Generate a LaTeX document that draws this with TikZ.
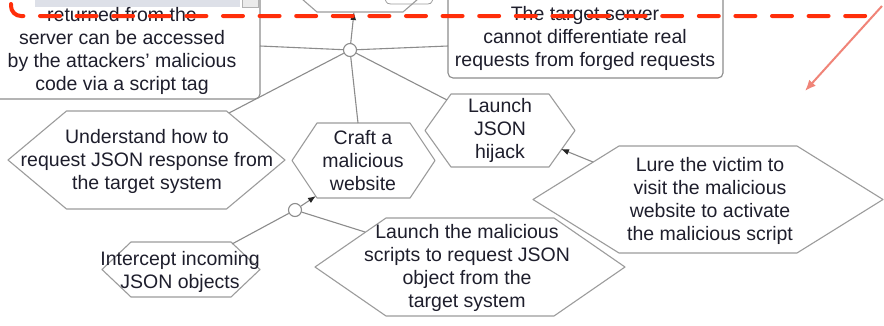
\documentclass[tikz,border=0pt]{standalone}
\usepackage{fontspec}
\setmainfont{Liberation Sans}
\usetikzlibrary{arrows.meta}

\definecolor{edgegray}{HTML}{8C8C8C}
\definecolor{hexgray}{HTML}{9C9C9C}
\definecolor{inkdark}{HTML}{1E1E2C}
\definecolor{dashred}{HTML}{FF2E0A}
\definecolor{pointerpink}{HTML}{F08478}
\definecolor{barblue}{HTML}{DDE0E8}

\tikzset{
  conn/.style={draw=edgegray, line width=1.1pt},
  tipped/.style={-{Latex[length=8pt,width=6pt,color=black!85]}},
  hexline/.style={draw=hexgray, line width=1.1pt, fill=white, line join=round},
  boxline/.style={draw=edgegray, line width=1.1pt, rounded corners=5pt, fill=white},
  txt/.style={text=inkdark, align=center, inner sep=0pt,
              font=\fontsize{19.5}{23}\selectfont},
  junc/.style={circle, draw=edgegray, line width=1.1pt, fill=white,
               minimum size=13pt, inner sep=0pt},
}

% hexagon: name, centre x, centre y, outer half width, inner half width, half height
\newcommand\hexagonat[6]{%
  \coordinate (#1) at (#2,#3);
  \draw[hexline] (#2-#4,#3) -- (#2-#5,#3-#6) -- (#2+#5,#3-#6) -- (#2+#4,#3)
    -- (#2+#5,#3+#6) -- (#2-#5,#3+#6) -- cycle;}

\begin{document}
\begin{tikzpicture}[x=1pt,y=-1pt]
\useasboundingbox (0,0) rectangle (884,325);
\fill[white] (0,0) rectangle (884,325);

% goals at the upper level, cut off by the page edge
\draw[boxline] (-30,-30) rectangle (260,99);
\draw[boxline] (448,-30) rectangle (723,78);
\draw[hexline] (302,-1) -- (317,12) -- (403,12) -- (418,-1);
\draw[draw=hexgray, line width=0.8pt] (385,-1) .. controls (387,4) .. (395,4) -- (424,4) .. controls (431,4) .. (433,-1);
\fill[barblue] (35,0) rectangle (240,7);
\draw[fill=black!8, draw=black!30, line width=0.6pt] (242,-2) rectangle (258,7);

\node[txt] (ret) at (122,51) {returned from the\\server can be accessed\\by the attackers' malicious\\code via a script tag};
\node[txt] (tgt) at (585,38.5) {The target server\\cannot differentiate real\\requests from forged requests};

% attack steps
\hexagonat{undH}{146.5}{160}{138.5}{80}{49}
\hexagonat{craftH}{363.5}{160.5}{71.5}{46.5}{37.5}
\hexagonat{ljH}{500}{130.5}{75}{49}{36.5}
\hexagonat{lureH}{708}{199.5}{175}{89}{53.5}
\hexagonat{intH}{181}{269.5}{79}{50}{27.5}
\hexagonat{lmH}{470}{267}{155}{84}{49}

\node[txt] (und) at (147,161) {Understand how to\\request JSON response from\\the target system};
\node[txt] (craft) at (363,161) {Craft a\\malicious\\website};
\node[txt] (lj) at (500,130.5) {Launch\\JSON\\hijack};
\node[txt] (lure) at (710,201) {Lure the victim to\\visit the malicious\\website to activate\\the malicious script};
\node[txt] (int) at (180,271.5) {Intercept incoming\\JSON objects};
\node[txt] (lm) at (467,267.5) {Launch the malicious\\scripts to request JSON\\object from the\\target system};

% attachment points on the outlines
\coordinate (retE) at (260,46);
\coordinate (tgtW) at (448,46);
\coordinate (topB) at (354,12);
\coordinate (undNE) at (229,113);
\coordinate (craftN) at (358,123);
\coordinate (ljNW) at (447,100);
\coordinate (craftSW) at (316,196);
\coordinate (intNE) at (232,244);
\coordinate (lmNW) at (365,232);
\coordinate (lureNW) at (593,162);
\coordinate (ljSE) at (561,149);

% AND junctions
\node[junc] (j1) at (350,50) {};
\node[junc] (j2) at (295,210) {};

\draw[conn] (j1) -- (retE);
\draw[conn] (j1) -- (tgtW);
\draw[conn] (j1) -- (undNE);
\draw[conn] (j1) -- (craftN);
\draw[conn] (j1) -- (ljNW);
\draw[conn,tipped] (j1) -- (topB);

\draw[conn] (j2) -- (intNE);
\draw[conn] (j2) -- (lmNW);
\draw[conn,tipped] (j2) -- (craftSW);

\draw[conn,tipped] (lureNW) -- (ljSE);

% red dashed boundary and pointer
\draw[dashred, line width=4pt, line cap=round, dash pattern=on 20pt off 16.6pt,
      rounded corners=10pt] (11,4) -- (11,16) -- (872,16);
\coordinate (ptrS) at (882,6);
\coordinate (ptrE) at (805,91);
\draw[pointerpink, line width=2pt, -{Latex[length=11pt,width=9pt]}] (ptrS) -- (ptrE);
\end{tikzpicture}
\end{document}
